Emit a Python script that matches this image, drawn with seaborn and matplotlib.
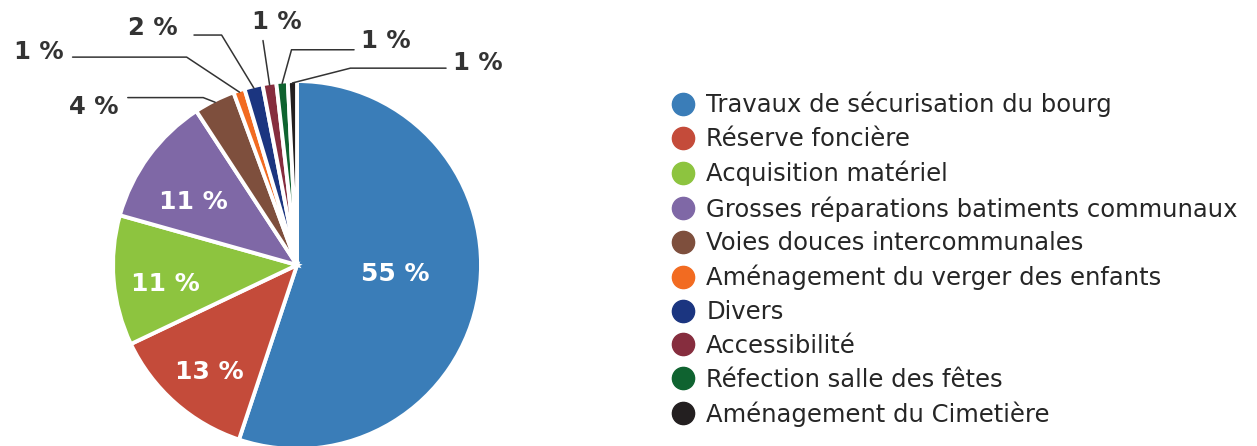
import numpy as np
import seaborn as sns
import matplotlib.pyplot as plt
from matplotlib.lines import Line2D

categories = [
    "Travaux de sécurisation du bourg",
    "Réserve foncière",
    "Acquisition matériel",
    "Grosses réparations batiments communaux",
    "Voies douces intercommunales",
    "Aménagement du verger des enfants",
    "Divers",
    "Accessibilité",
    "Réfection salle des fêtes",
    "Aménagement du Cimetière",
]
shares = [55.0, 12.8, 11.4, 11.4, 3.6, 1.0, 1.6, 1.2, 1.0, 0.8]
colors = ["#3A7DB8", "#C44B3A", "#8DC43F", "#7F68A6", "#7E4F3D",
          "#F26B21", "#1B3580", "#862D3E", "#0F6330", "#231F20"]

sns.set_theme(style="white")
plt.rcParams["font.family"] = ["DejaVu Sans"]

fig = plt.figure(figsize=(12.57, 4.46), dpi=100)
ax = fig.add_axes([0.0899, -0.0067, 0.2928, 0.825])

wedges, _ = ax.pie(shares, colors=colors, startangle=90, counterclock=False,
                   wedgeprops=dict(edgecolor="white", linewidth=2.8))
ax.set_xlim(-1, 1)
ax.set_ylim(-1, 1)
ax.set_aspect("equal")
ax.axis("off")

# labels inside the big slices (radius, vertical nudge)
inner = [(0.54, 0.04), (0.72, -0.04), (0.72, -0.04), (0.70, -0.07)]
for w, v, (r, dy) in zip(wedges[:4], shares[:4], inner):
    mid = np.deg2rad((w.theta1 + w.theta2) / 2)
    ax.text(r * np.cos(mid), r * np.sin(mid) + dy, f"{round(v)} %", color="white",
            fontsize=18, fontweight="bold", ha="center", va="center")

# outside labels: (elbow x, elbow y, line end x, text x, text y, ha) in data units
layout = [
    (-0.51, 0.91, -0.92, -0.97, 0.86, "right"),
    (-0.60, 1.13, -1.22, -1.27, 1.16, "right"),
    (-0.41, 1.25, -0.56, -0.65, 1.29, "right"),
    (-0.185, 1.22, -0.185, -0.11, 1.32, "center"),
    (-0.03, 1.17, 0.31, 0.35, 1.22, "left"),
    (0.29, 1.07, 0.81, 0.85, 1.10, "left"),
]
for w, v, (ex, ey, lx, tx, ty, ha) in zip(wedges[4:], shares[4:], layout):
    mid = np.deg2rad((w.theta1 + w.theta2) / 2)
    px, py = 0.99 * np.cos(mid), 0.99 * np.sin(mid)
    ax.plot([px, ex, lx], [py, ey, ey], color="#333333", lw=1.1, clip_on=False)
    ax.text(tx, ty, f"{round(v)} %", color="#333333", fontsize=17.5,
            fontweight="bold", ha=ha, va="center", clip_on=False)

handles = [Line2D([], [], marker="o", linestyle="", markersize=16,
                  markerfacecolor=c, markeredgecolor=c) for c in colors]
fig.legend(handles, categories, loc="upper left", bbox_to_anchor=(0.5357, 0.794),
           frameon=False, fontsize=17.5, handlelength=0.8, handletextpad=0.55,
           labelspacing=0.40, borderpad=0, borderaxespad=0)

fig.savefig("out.png", dpi=100)
